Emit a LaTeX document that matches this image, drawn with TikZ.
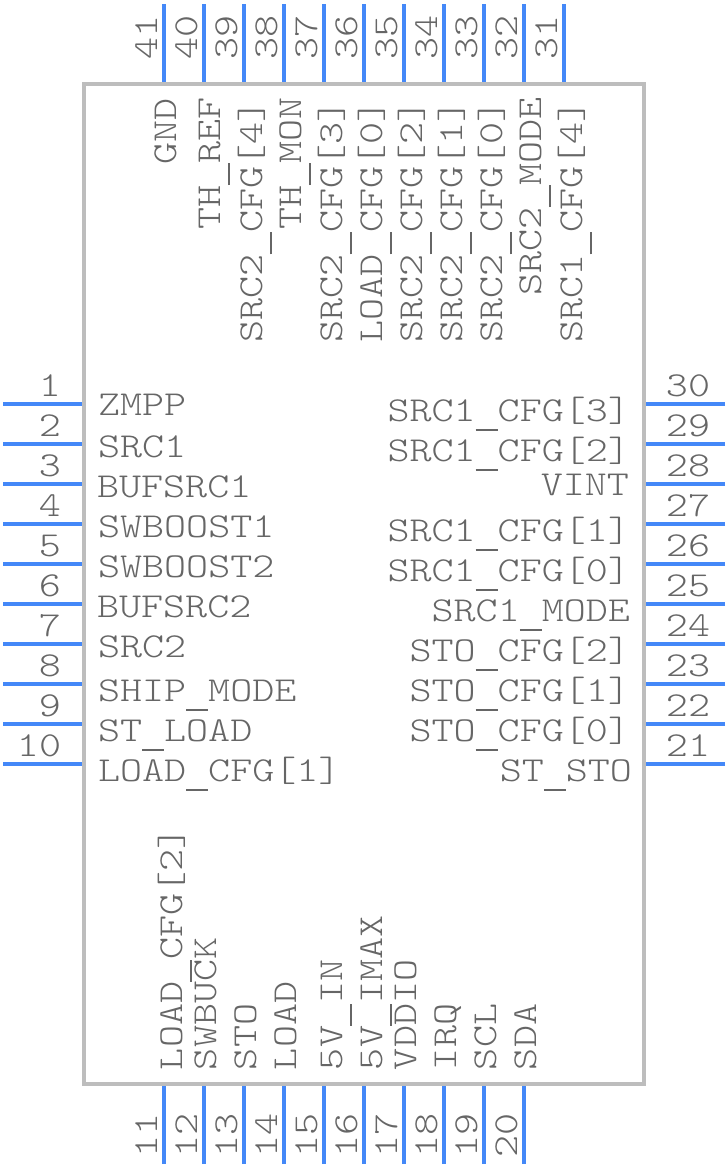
\documentclass[tikz,border=0pt]{standalone}
\usepackage{fontspec}
\newfontfamily\pinfont[FakeStretch=1.2]{Latin Modern Mono Light}
\definecolor{pinblue}{HTML}{4488F8}
\definecolor{bodygray}{HTML}{BDBDBD}
\definecolor{txtgray}{HTML}{666666}
\newcommand{\usc}{\rule[-9.5pt]{22pt}{2pt}}
\tikzset{
  pinline/.style={draw=pinblue,line width=4pt},
  bodybox/.style={draw=bodygray,line width=4pt,fill=white},
  lbl/.style={text=txtgray,inner sep=0pt,outer sep=0pt,font=\pinfont\fontsize{35}{35}\selectfont},
  lblW/.style={lbl,anchor=base west},
  lblE/.style={lbl,anchor=base east},
  lblC/.style={lbl,anchor=base},
  lblTop/.style={lbl,anchor=base east,rotate=90},
  lblBot/.style={lbl,anchor=base west,rotate=90},
  numTop/.style={lbl,anchor=base,rotate=90},
}
\begin{document}
\begin{tikzpicture}[x=1pt,y=-1pt]
\useasboundingbox (0,0) rectangle (728,1168);
\coordinate (bodyTL) at (84,84);
\coordinate (bodyBR) at (644,1084);
\draw[bodybox] (bodyTL) rectangle (bodyBR);
% left pins
\foreach \n [count=\i from 0] in {1,...,10} {
  \pgfmathsetmacro\yy{404+40*\i}
  \coordinate (L\n a) at (3,\yy);
  \coordinate (L\n b) at (82,\yy);
  \draw[pinline] (L\n a) -- (L\n b);
  \pgfmathsetmacro\yt{396+40*\i}
  \ifnum\n<10
    \node[lblC] (num\n) at (50,\yt) {\n};
  \else
    \node[lblC] (num\n) at (39,\yt) {\n};
  \fi
}
% right pins
\foreach \n [count=\i from 0] in {30,29,...,21} {
  \pgfmathsetmacro\yy{404+40*\i}
  \coordinate (R\n a) at (725,\yy);
  \coordinate (R\n b) at (646,\yy);
  \draw[pinline] (R\n a) -- (R\n b);
  \pgfmathsetmacro\yt{396+40*\i}
  \node[lblC] (num\n) at (688,\yt) {\n};
}
% top pins
\foreach \n [count=\i from 0] in {41,40,...,31} {
  \pgfmathsetmacro\xx{164+40*\i}
  \coordinate (T\n a) at (\xx,4);
  \coordinate (T\n b) at (\xx,82);
  \draw[pinline] (T\n a) -- (T\n b);
  \pgfmathsetmacro\xt{157+40*\i}
  \node[numTop] (num\n) at (\xt,37) {\n};
}
% bottom pins
\foreach \n [count=\i from 0] in {11,12,...,20} {
  \pgfmathsetmacro\xx{164+40*\i}
  \coordinate (B\n a) at (\xx,1164);
  \coordinate (B\n b) at (\xx,1086);
  \draw[pinline] (B\n a) -- (B\n b);
  \pgfmathsetmacro\xt{157+40*\i}
  \node[numTop] (num\n) at (\xt,1135) {\n};
}
% left names
\node[lblW] (n1) at (98,415) {ZMPP};
\node[lblW] (n2) at (98,457) {SRC1};
\node[lblW] (n3) at (97,497) {BUFSRC1};
\node[lblW] (n4) at (98,537) {SWBOOST1};
\node[lblW] (n5) at (98,577) {SWBOOST2};
\node[lblW] (n6) at (97,617) {BUFSRC2};
\node[lblW] (n7) at (98,657) {SRC2};
\node[lblW] (n8) at (98,701) {SHIP\usc MODE};
\node[lblW] (n9) at (98,741) {ST\usc LOAD};
\node[lblW] (n10) at (98,781) {LOAD\usc CFG[1]};
% right names
\node[lblE] (n30) at (630,421) {SRC1\usc CFG[3]};
\node[lblE] (n29) at (630,461) {SRC1\usc CFG[2]};
\node[lblE] (n28) at (629,495) {VINT};
\node[lblE] (n27) at (630,541) {SRC1\usc CFG[1]};
\node[lblE] (n26) at (630,581) {SRC1\usc CFG[0]};
\node[lblE] (n25) at (630,621) {SRC1\usc MODE};
\node[lblE] (n24) at (630,661) {STO\usc CFG[2]};
\node[lblE] (n23) at (630,701) {STO\usc CFG[1]};
\node[lblE] (n22) at (630,741) {STO\usc CFG[0]};
\node[lblE] (n21) at (632,781) {ST\usc STO};
% top names
\node[lblTop] (n41) at (176,98) {GND};
\node[lblTop] (n40) at (220,97) {TH\usc REF};
\node[lblTop] (n39) at (262,100) {SRC2\usc CFG[4]};
\node[lblTop] (n38) at (301,97) {TH\usc MON};
\node[lblTop] (n37) at (342,100) {SRC2\usc CFG[3]};
\node[lblTop] (n36) at (382,100) {LOAD\usc CFG[0]};
\node[lblTop] (n35) at (422,100) {SRC2\usc CFG[2]};
\node[lblTop] (n34) at (462,100) {SRC2\usc CFG[1]};
\node[lblTop] (n33) at (502,100) {SRC2\usc CFG[0]};
\node[lblTop] (n32) at (541,97) {SRC2\usc MODE};
\node[lblTop] (n31) at (582,100) {SRC1\usc CFG[4]};
% bottom names
\node[lblBot] (n11) at (182,1070) {LOAD\usc CFG[2]};
\node[lblBot] (n12) at (216,1070) {SWBUCK};
\node[lblBot] (n13) at (256,1070) {STO};
\node[lblBot] (n14) at (296,1070) {LOAD};
\node[lblBot] (n15) at (342,1070) {5V\usc IN};
\node[lblBot] (n16) at (382,1070) {5V\usc IMAX};
\node[lblBot] (n17) at (416,1070) {VDDIO};
\node[lblBot] (n18) at (456,1070) {IRQ};
\node[lblBot] (n19) at (496,1070) {SCL};
\node[lblBot] (n20) at (536,1070) {SDA};
\end{tikzpicture}
\end{document}
